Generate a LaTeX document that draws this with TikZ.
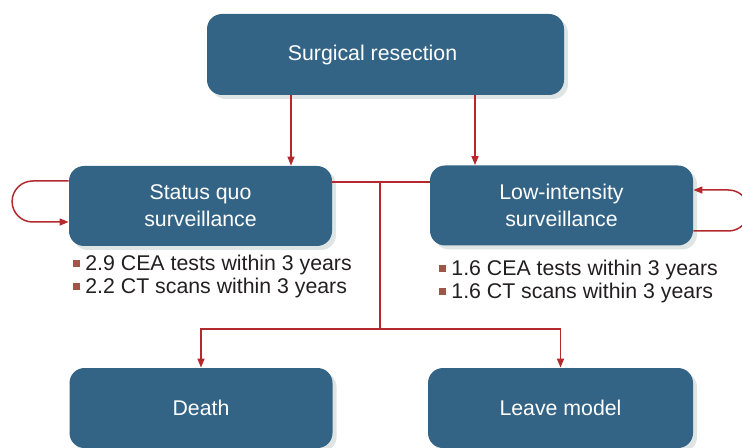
\documentclass[tikz,border=0pt]{standalone}
\usepackage{fontspec}
\setmainfont{Liberation Sans}
\usetikzlibrary{arrows.meta,shadows}
\definecolor{boxblue}{HTML}{336486}
\definecolor{linered}{HTML}{B3292E}
\definecolor{bulletred}{HTML}{A05548}
\definecolor{shadowgray}{HTML}{DFE5E4}
\definecolor{textgray}{HTML}{231F20}
\tikzset{
  stagebox/.style={fill=boxblue, rounded corners=7.5pt, text=white, minimum width=131.5pt,
    minimum height=40pt, align=center, font=\fontsize{10.65pt}{13.5pt}\selectfont,
    drop shadow={shadow xshift=2pt, shadow yshift=-2pt, fill=shadowgray, opacity=1}},
  flow/.style={draw=linered, line width=0.75pt, -{Triangle[length=4.5pt,width=3.5pt]}},
  link/.style={draw=linered, line width=0.75pt},
  facts/.style={anchor=west, align=left, inner sep=0pt, text=textgray,
    font=\fontsize{10.65pt}{11.5pt}\selectfont}
}
\begin{document}
\begin{tikzpicture}[x=0.5pt,y=-0.5pt]
	\newcommand{\SQ}{\textcolor{bulletred}{\rule[1.75pt]{3.5pt}{3.5pt}}\hspace{2.5pt}}
	\clip (0,0) rectangle (742,448);
	\node[stagebox, minimum width=178.5pt, minimum height=40.5pt](resect) at (385.5,54.5){Surgical resection\hspace*{13pt}};
	\node[stagebox](quo) at (200.5,206){Status quo\\surveillance};
	\node[stagebox](low) at (561.5,205.5){Low-intensity\\surveillance};
	\node[stagebox](death) at (201,408){Death};
	\node[stagebox, minimum width=132.5pt](leave) at (560.5,408){\raisebox{-1.5pt}{Leave model}};
	\node[facts](quofacts) at (73,276.5){\SQ 2.9 CEA tests within 3 years\\\SQ 2.2 CT scans within 3 years};
	\node[facts](lowfacts) at (439,281.5){\SQ 1.6 CEA tests within 3 years\\\SQ 1.6 CT scans within 3 years};
	\coordinate (junc) at (380,182);
	\coordinate (split) at (380,329);
	\draw [flow] ([xshift=-47.25pt]resect.south) -- ([xshift=-47.25pt]resect.south |- quo.north);
	\draw [flow] ([xshift=44.75pt]resect.south) -- ([xshift=44.75pt]resect.south |- low.north);
	\draw [link] (quo.east |- junc) -- (junc -| low.west);
	\draw [link] (junc) -- (split);
	\draw [flow] (split) -| (death.north);
	\draw [flow] (split) -| (leave.north);
	% self loops
	\draw [flow] ([yshift=12.5pt]quo.west) -- ++(-18pt,0) arc (90:270:10.25pt) -- ([yshift=-8pt]quo.west);
	\draw [flow] ([yshift=-12.75pt]low.east) -- ++(17.5pt,0) arc (270:450:10.25pt) -- ([yshift=7.75pt]low.east);
\end{tikzpicture}
\end{document}
